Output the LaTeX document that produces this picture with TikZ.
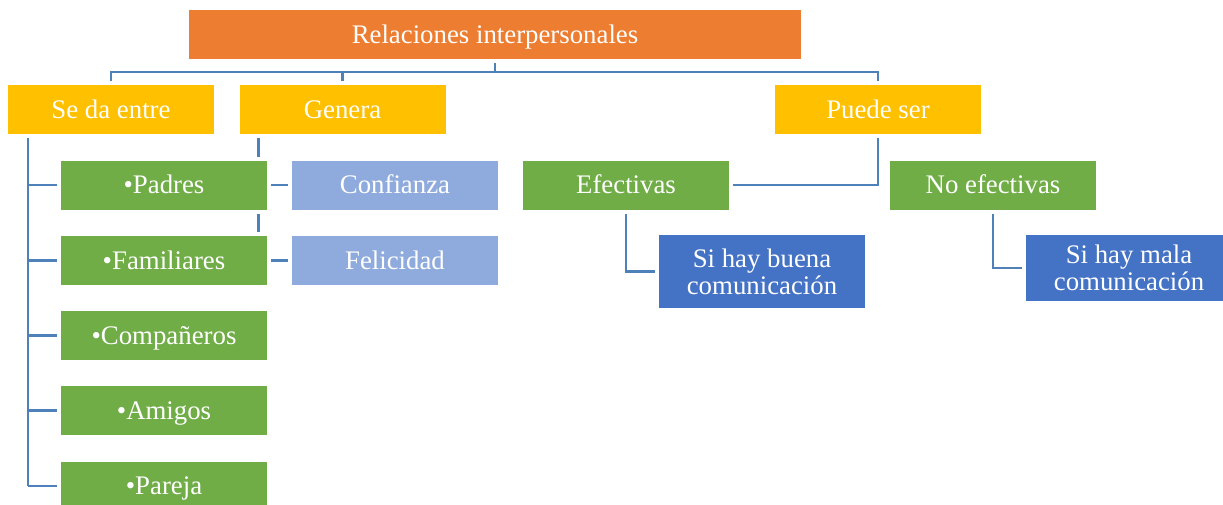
\documentclass[tikz,border=0pt]{standalone}
\usepackage{fontspec}
\setmainfont{Liberation Serif}
\usetikzlibrary{backgrounds}
\definecolor{corange}{HTML}{ED7D31}
\definecolor{cyellow}{HTML}{FFC000}
\definecolor{cgreen}{HTML}{70AD47}
\definecolor{clblue}{HTML}{8FAADC}
\definecolor{cblue}{HTML}{4472C4}
\definecolor{cline}{HTML}{4E81BA}
\begin{document}
\begin{tikzpicture}[x=1pt,y=-1pt,
  basebox/.style={rectangle, draw=white, line width=4pt, outer sep=0pt, inner sep=0pt,
    text=white, font=\fontsize{26.8}{27}\selectfont, align=center,
    minimum width=210pt, minimum height=53pt},
  box/.style={basebox, text height=23pt, text depth=5.6pt},
  conn/.style={draw=cline, line width=2.8pt},
]
\useasboundingbox (0,0) rectangle (1223,504);
\node[box, fill=corange, minimum width=616pt] (top) at (495,34.5) {Relaciones interpersonales};
\node[box, fill=cyellow] (sde) at (111,109.5) {Se da entre};
\node[box, fill=cyellow] (gen) at (342.5,109.5) {Genera};
\node[box, fill=cyellow] (pue) at (878,109.5) {Puede ser};
\node[box, fill=cgreen] (pad) at (164,185) {\textbullet Padres};
\node[box, fill=cgreen] (fam) at (164,260.5) {\textbullet Familiares};
\node[box, fill=cgreen] (com) at (164,335.5) {\textbullet Compañeros};
\node[box, fill=cgreen] (ami) at (164,410.5) {\textbullet Amigos};
\node[box, fill=cgreen] (par) at (164,486) {\textbullet Pareja};
\node[box, fill=clblue] (con) at (395,185) {Confianza};
\node[box, fill=clblue] (fel) at (395,260.5) {Felicidad};
\node[box, fill=cgreen] (efe) at (626,185) {Efectivas};
\node[box, fill=cgreen] (noe) at (993,185) {No efectivas};
\node[basebox, fill=cblue, minimum height=77pt] (bue) at (762,271.5) {Si hay buena\\comunicación};
\node[basebox, fill=cblue, minimum height=70pt] (mal) at (1129,268) {Si hay mala\\comunicación};
\begin{scope}[on background layer]
  \draw[conn] (top.south) -- ++(0,11) coordinate (bus);
  \draw[conn] (sde.north) -- (sde.north |- bus) -- (pue.north |- bus) -- (pue.north);
  \draw[conn] (gen.north) -- (gen.north |- bus);
  \coordinate (tr) at ([xshift=22pt,yshift=-2pt]sde.south west);
  \draw[conn] (tr) -- (tr |- par.west);
  \foreach \n in {pad,fam,com,ami,par} \draw[conn] (tr |- \n.west) -- (\n.west);
  \coordinate (gt) at ([xshift=21pt,yshift=-2pt]gen.south west);
  \draw[conn] (gt) -- (gt |- fam.east) -- (fel.west);
  \draw[conn] (gt |- pad.east) -- (con.west);
  \draw[conn] ([yshift=-2pt]pue.south) -- (pue.south |- efe.east) -- (efe.east);
  \draw[conn] ([yshift=-2pt]efe.south) |- (bue.west);
  \draw[conn] ([yshift=-2pt]noe.south) |- (mal.west);
\end{scope}
\end{tikzpicture}
\end{document}
